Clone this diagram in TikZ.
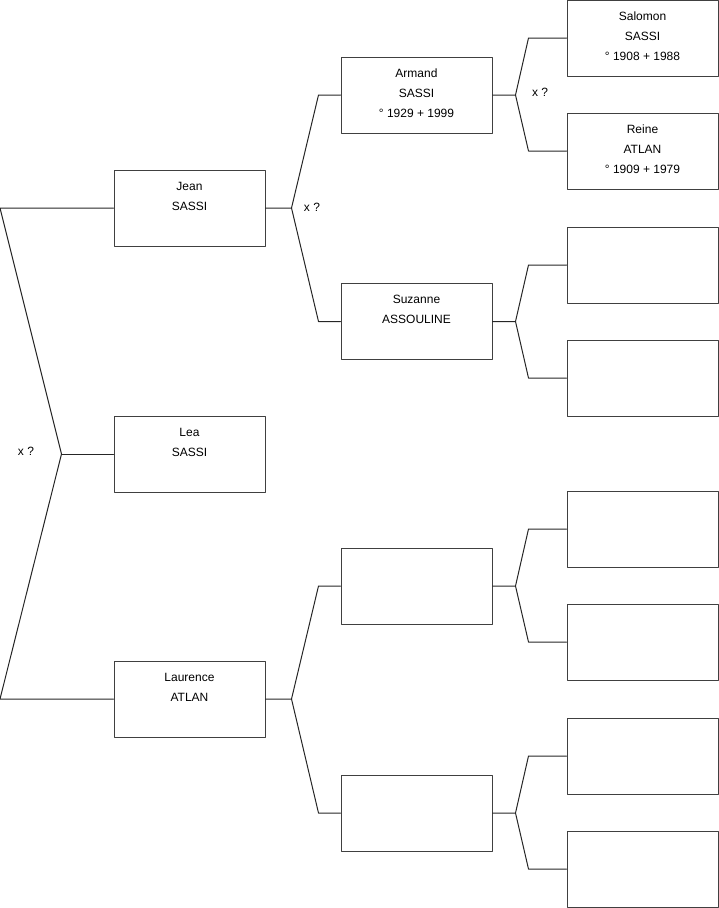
\documentclass[tikz,border=0pt]{standalone}
\usepackage{fontspec}
\setmainfont{Liberation Sans}
\begin{document}
\begin{tikzpicture}[x=1pt, y=-1pt, line join=round, line cap=round,
	box/.style={draw=black!75, line width=1pt, minimum width=151pt, minimum height=76pt, inner sep=0pt},
	who/.style={anchor=north, inner sep=0pt, align=center, font=\fontsize{12}{20}\selectfont},
	wed/.style={inner sep=0pt, font=\fontsize{12}{14}\selectfont},
	link/.style={draw=black!85, line width=1pt}]
	\useasboundingbox (0,0) rectangle (719,908);
	% children
	\node[box] (jean) at (189.5,208) {};
	\node[box] (lea) at (189.5,454) {};
	\node[box] (laurence) at (189.5,699) {};
	% parents
	\node[box] (armand) at (416.5,95) {};
	\node[box] (suzanne) at (416.5,321.5) {};
	\node[box] (pc) at (416.5,586) {};
	\node[box] (pd) at (416.5,813) {};
	% grandparents
	\foreach \n/\y in {salomon/38, reine/151, gc/265, gd/378, ge/529, gf/642, gg/756, gh/869}
		\node[box] (\n) at (642.5,\y) {};
	% names
	\node[who] (jeantext) at ([yshift=-6.5pt]jean.north) {\strut Jean\\SASSI};
	\node[who] (leatext) at ([yshift=-6.5pt]lea.north) {\strut Lea\\SASSI};
	\node[who] (laurencetext) at ([yshift=-6.5pt]laurence.north) {\strut Laurence\\ATLAN};
	\node[who] (armandtext) at ([yshift=-6.5pt]armand.north) {\strut Armand\\SASSI\\° 1929 + 1999};
	\node[who] (suzannetext) at ([yshift=-6.5pt]suzanne.north) {\strut Suzanne\\ASSOULINE};
	\node[who] (salomontext) at ([yshift=-6.5pt]salomon.north) {\strut Salomon\\SASSI\\° 1908 + 1988};
	\node[who] (reinetext) at ([yshift=-6.5pt]reine.north) {\strut Reine\\ATLAN\\° 1909 + 1979};
	% forks
	\coordinate (f0) at ([xshift=-52pt]lea.west);
	\draw[link] (jean.west) -- ([xshift=-113.5pt]jean.west) -- (f0) -- ([xshift=-113.5pt]laurence.west) -- (laurence.west);
	\draw[link] (f0) -- (lea.west);
	\foreach \c/\a/\b in {jean/armand/suzanne, laurence/pc/pd}
		\draw[link] (\a.west) -- ([xshift=-22pt]\a.west) -- ([xshift=26pt]\c.east) -- ([xshift=-22pt]\b.west) -- (\b.west)
		([xshift=26pt]\c.east) -- (\c.east);
	\foreach \c/\a/\b in {armand/salomon/reine, suzanne/gc/gd, pc/ge/gf, pd/gg/gh}
		\draw[link] (\a.west) -- ([xshift=-38pt]\a.west) -- ([xshift=23pt]\c.east) -- ([xshift=-38pt]\b.west) -- (\b.west)
		([xshift=23pt]\c.east) -- (\c.east);
	% marriages
	\node[wed] (wed0) at (26,451) {x ?};
	\node[wed] (wed1) at (312,207) {x ?};
	\node[wed] (wed2) at (540,92) {x ?};
\end{tikzpicture}
\end{document}
